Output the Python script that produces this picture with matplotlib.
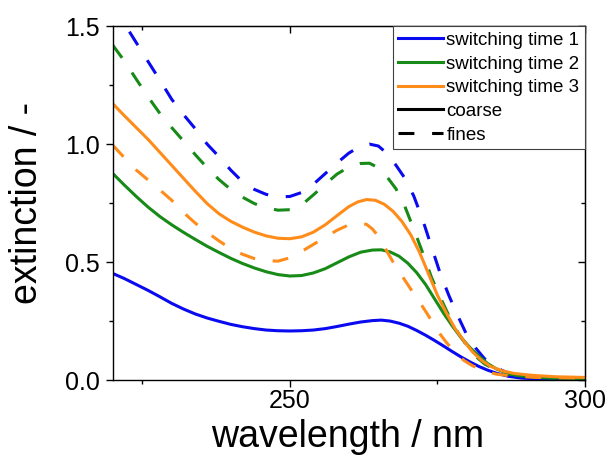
import matplotlib
matplotlib.use("Agg")
from matplotlib import pyplot as plt
from matplotlib.lines import Line2D

plt.rcParams['font.family'] = ['Liberation Sans', 'DejaVu Sans']

# ---- data ----
# switching time 1, coarse
wl_1c = [220, 222, 224, 226, 228, 230, 232, 234, 236, 238, 240, 242, 244, 246, 248, 250,
         252, 254, 256, 258, 260, 262, 264, 265.5, 267, 268.5, 270, 271.5, 273, 274.5,
         276, 277.5, 279, 280.5, 282, 283.5, 285, 287, 289, 292, 296, 300]
ext_1c = [0.452, 0.43, 0.405, 0.38, 0.353, 0.325, 0.301, 0.28, 0.263, 0.249, 0.236, 0.226,
          0.218, 0.212, 0.209, 0.208, 0.209, 0.212, 0.218, 0.227, 0.237, 0.246, 0.252,
          0.254, 0.25, 0.241, 0.228, 0.21, 0.19, 0.168, 0.145, 0.121, 0.098, 0.077, 0.058,
          0.042, 0.029, 0.016, 0.009, 0.004, 0.001, 0.0]
# switching time 2, coarse
wl_2c = [220, 222, 224, 226, 228, 230, 232, 234, 236, 238, 240, 242, 244, 246, 248, 250,
         252, 254, 256, 258, 260, 262, 264, 265.5, 267, 268.5, 270, 271.5, 273, 274.5,
         276, 277.5, 279, 280.5, 282, 283.5, 285, 287, 289, 292, 296, 300]
ext_2c = [0.876, 0.826, 0.778, 0.733, 0.693, 0.658, 0.626, 0.596, 0.567, 0.541, 0.516,
          0.494, 0.475, 0.459, 0.447, 0.441, 0.443, 0.454, 0.472, 0.497, 0.522, 0.542,
          0.551, 0.552, 0.543, 0.525, 0.495, 0.455, 0.405, 0.345, 0.285, 0.23, 0.18,
          0.138, 0.102, 0.07, 0.047, 0.027, 0.018, 0.011, 0.008, 0.006]
# switching time 3, coarse
wl_3c = [220, 222, 224, 226, 228, 230, 232, 234, 236, 238, 240, 242, 244, 246, 248, 250,
         252, 254, 256, 258, 260, 261.5, 263, 264.5, 266, 267.5, 269, 270.5, 272, 273.5,
         275, 276.5, 278, 279.5, 281, 282.5, 284, 286, 288, 291, 295, 300]
ext_3c = [1.172, 1.12, 1.07, 1.02, 0.965, 0.91, 0.855, 0.8, 0.748, 0.705, 0.673, 0.648,
          0.627, 0.611, 0.601, 0.599, 0.607, 0.627, 0.658, 0.697, 0.735, 0.755, 0.765,
          0.762, 0.745, 0.715, 0.672, 0.615, 0.54, 0.45, 0.36, 0.285, 0.218, 0.165, 0.118,
          0.083, 0.058, 0.039, 0.028, 0.02, 0.014, 0.011]
# switching time 1, fines
wl_1f = [220, 222, 224, 226, 228, 230, 232, 234, 236, 238, 240, 242, 244, 246, 248, 250,
         252, 254, 256, 258, 260, 262, 263.5, 265, 266.5, 268, 269.5, 271, 272.5, 274,
         275.5, 277, 278.5, 280, 281.5, 283, 284.5, 286, 288, 291, 295, 300]
ext_1f = [1.6, 1.51, 1.43, 1.35, 1.271, 1.19, 1.125, 1.065, 1.0, 0.947, 0.89, 0.84, 0.808,
          0.787, 0.777, 0.778, 0.795, 0.83, 0.875, 0.92, 0.962, 0.992, 1.0, 0.992, 0.96,
          0.91, 0.855, 0.78, 0.68, 0.565, 0.45, 0.355, 0.27, 0.19, 0.135, 0.09, 0.062,
          0.04, 0.022, 0.009, 0.002, 0.0]
# switching time 2, fines
wl_2f = [220, 222, 224, 226, 228, 230, 232, 234, 236, 238, 240, 242, 244, 246, 248, 250,
         252, 254, 256, 258, 260, 262, 263.5, 265, 266.5, 268, 269.5, 271, 272.5, 274,
         275.5, 277, 278.5, 280, 281.5, 283, 285, 287, 290, 294, 300]
ext_2f = [1.42, 1.352, 1.275, 1.2, 1.13, 1.07, 1.013, 0.955, 0.9, 0.85, 0.808, 0.775,
          0.748, 0.73, 0.72, 0.722, 0.742, 0.785, 0.83, 0.873, 0.903, 0.918, 0.919, 0.9,
          0.86, 0.81, 0.735, 0.64, 0.54, 0.435, 0.35, 0.27, 0.2, 0.145, 0.1, 0.068, 0.042,
          0.026, 0.015, 0.009, 0.005]
# switching time 3, fines
wl_3f = [220, 222, 224, 226, 228, 230, 232, 234, 236, 238, 240, 242, 244, 246, 248, 250,
         252, 254, 256, 258, 260, 261.5, 263, 264, 265, 266, 267.5, 269, 270.5, 272,
         273.5, 275, 276.5, 278, 279.5, 281, 283, 285, 288, 292, 300]
ext_3f = [0.996, 0.942, 0.89, 0.848, 0.806, 0.762, 0.71, 0.665, 0.626, 0.59, 0.557, 0.533,
          0.515, 0.506, 0.504, 0.518, 0.545, 0.575, 0.605, 0.635, 0.658, 0.665, 0.66,
          0.64, 0.61, 0.565, 0.5, 0.442, 0.385, 0.33, 0.272, 0.21, 0.16, 0.116, 0.083,
          0.06, 0.038, 0.025, 0.016, 0.011, 0.008]

labels = ['switching time 1', 'switching time 2', 'switching time 3']
colours = ['#0a0af0', '#178a17', '#ff8c1a']

# ---- figure ----
fig = plt.figure(figsize=(6.09, 4.59), dpi=100)
ax = fig.add_axes([0.185, 0.172, 0.7756, 0.771])

lw = 2.2
dash = (5.2, 5.8)
ax.plot(wl_1c, ext_1c, '-', c=colours[0], lw=lw)
ax.plot(wl_1f, ext_1f, c=colours[0], lw=lw, dashes=dash)
ax.plot(wl_2c, ext_2c, '-', c=colours[1], lw=lw)
ax.plot(wl_2f, ext_2f, c=colours[1], lw=lw, dashes=dash)
ax.plot(wl_3c, ext_3c, '-', c=colours[2], lw=lw)
ax.plot(wl_3f, ext_3f, c=colours[2], lw=lw, dashes=dash)

ax.set_xlim(220, 300)
ax.set_ylim(0, 1.5)
ax.set_xticks([250, 300])
ax.set_xticks([225, 275], minor=True)
ax.set_yticks([0.0, 0.5, 1.0, 1.5])
ax.set_yticks([0.25, 0.75, 1.25], minor=True)
ax.set_yticklabels(['0.0', '0.5', '1.0', '1.5'])

for s in ax.spines.values():
    s.set_linewidth(1.0)
ax.tick_params(which='major', direction='out', length=5, width=1.0, labelsize=18)
ax.tick_params(which='minor', direction='out', length=3, width=1.0)
ax.tick_params(axis='x', which='major', pad=1.5)
ax.tick_params(axis='y', which='major', pad=4)

# top and right: ticks pointing inwards, no labels
top = ax.secondary_xaxis('top')
top.set_xticks([250, 300])
top.set_xticks([225, 275], minor=True)
top.set_xticklabels([])
top.tick_params(which='major', direction='in', length=5, width=1.0)
top.tick_params(which='minor', direction='in', length=3, width=1.0)
right = ax.secondary_yaxis('right')
right.set_yticks([0.0, 0.5, 1.0, 1.5])
right.set_yticks([0.25, 0.75, 1.25], minor=True)
right.set_yticklabels([])
right.tick_params(which='major', direction='in', length=5, width=1.0)
right.tick_params(which='minor', direction='in', length=3, width=1.0)

ax.set_xlabel('wavelength / nm', fontsize=27)
ax.set_ylabel('extinction / -', fontsize=27)
ax.xaxis.set_label_coords(0.498, -0.109)
ax.yaxis.set_label_coords(-0.143, 0.5)

handles = [Line2D([], [], c=colours[0], lw=lw),
           Line2D([], [], c=colours[1], lw=lw),
           Line2D([], [], c=colours[2], lw=lw),
           Line2D([], [], c='black', lw=lw),
           Line2D([], [], c='black', lw=lw, dashes=dash)]
leg = ax.legend(handles, labels + ['coarse', 'fines'], loc='upper right',
                bbox_to_anchor=(1, 1), borderaxespad=0, fontsize=13.5,
                handlelength=2.4, handletextpad=0.15, labelspacing=0.35,
                borderpad=0.3, fancybox=False, framealpha=1)
leg.get_frame().set_edgecolor('#404040')
leg.get_frame().set_linewidth(0.8)

fig.savefig('out.png', dpi=100)
